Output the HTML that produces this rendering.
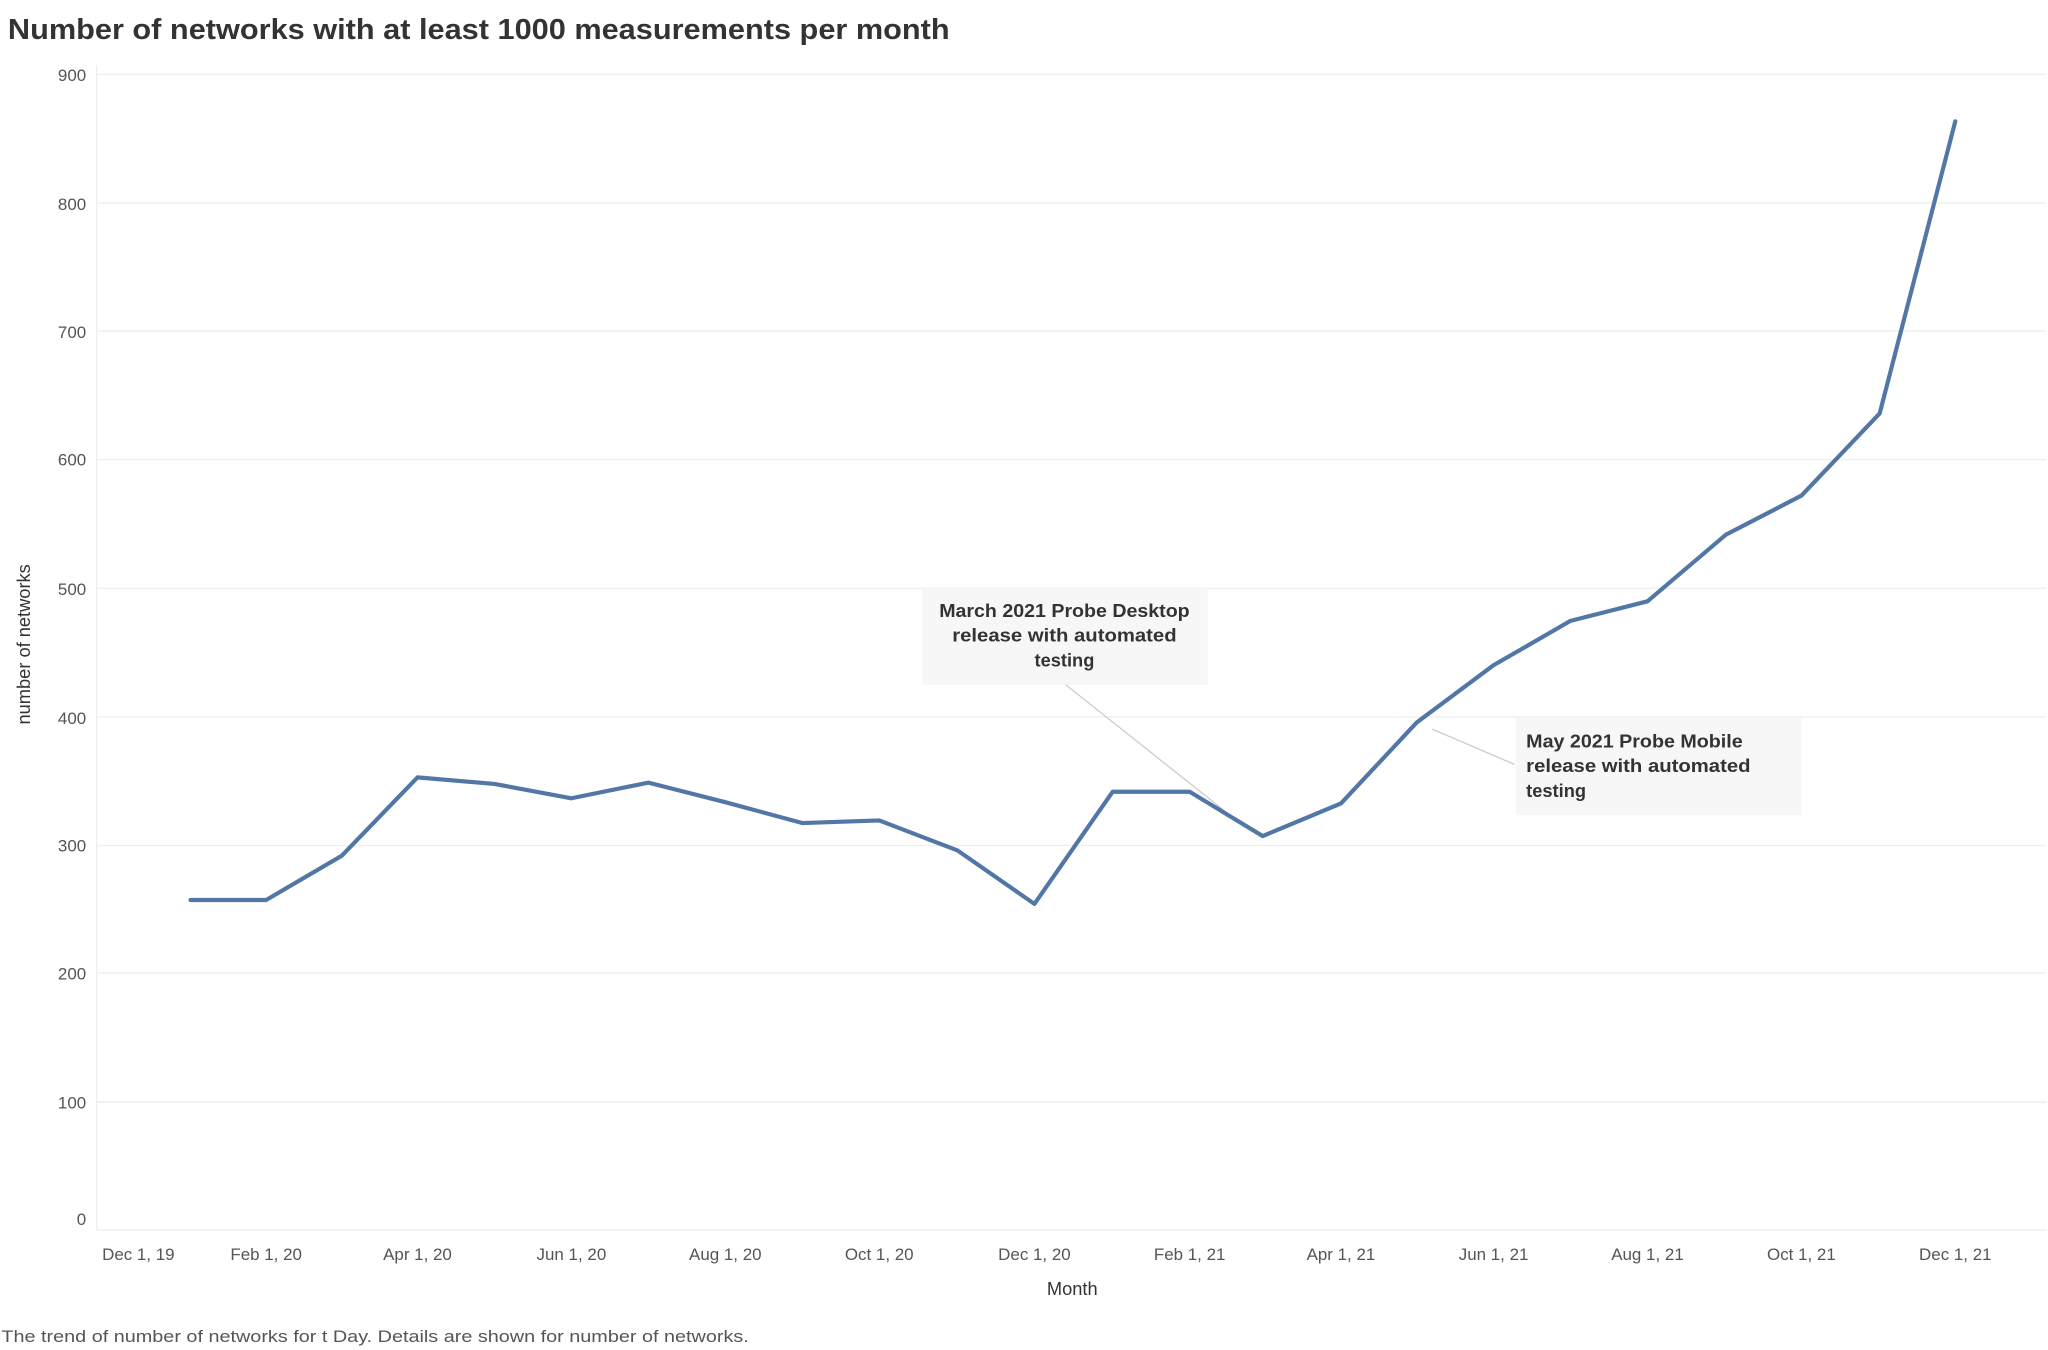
<!DOCTYPE html>
<html><head><meta charset="utf-8"><style>
html,body{margin:0;padding:0;background:#fff;}
svg{display:block;}
text{font-family:"Liberation Sans",sans-serif;}
</style></head><body>
<svg width="2048" height="1350" viewBox="0 0 1568 1035" xmlns="http://www.w3.org/2000/svg">
<rect width="1568" height="1035" fill="#fff"/>
<text x="5" y="30" font-size="22" font-weight="bold" fill="#333" textLength="722" lengthAdjust="spacingAndGlyphs">Number of networks with at least 1000 measurements per month</text>
<g stroke="#eeeeee" stroke-width="1">
<line x1="73" y1="57" x2="1568" y2="57"/>
<line x1="73" y1="155.6" x2="1568" y2="155.6"/>
<line x1="73" y1="253.8" x2="1568" y2="253.8"/>
<line x1="73" y1="352.4" x2="1568" y2="352.4"/>
<line x1="73" y1="451" x2="1568" y2="451"/>
<line x1="73" y1="549.6" x2="1568" y2="549.6"/>
<line x1="73" y1="648.2" x2="1568" y2="648.2"/>
<line x1="73" y1="746" x2="1568" y2="746"/>
<line x1="73" y1="845" x2="1568" y2="845"/>
<line x1="73" y1="943" x2="1568" y2="943"/>
<line x1="73" y1="50" x2="73" y2="943"/>
</g>
<g font-size="13" fill="#555" text-anchor="end">
<text x="65" y="62">900</text><text x="65" y="161">800</text><text x="65" y="259">700</text>
<text x="65" y="357">600</text><text x="65" y="456">500</text><text x="65" y="555">400</text>
<text x="65" y="653">300</text><text x="65" y="751">200</text><text x="65" y="850">100</text>
<text x="65" y="939">0</text>
</g>
<g font-size="13" fill="#555" text-anchor="middle">
<text x="105" y="966">Dec 1, 19</text><text x="203" y="966">Feb 1, 20</text><text x="319" y="966">Apr 1, 20</text>
<text x="437" y="966">Jun 1, 20</text><text x="555" y="966">Aug 1, 20</text><text x="673" y="966">Oct 1, 20</text>
<text x="792" y="966">Dec 1, 20</text><text x="911" y="966">Feb 1, 21</text><text x="1027" y="966">Apr 1, 21</text>
<text x="1144" y="966">Jun 1, 21</text><text x="1262" y="966">Aug 1, 21</text><text x="1380" y="966">Oct 1, 21</text>
<text x="1498" y="966">Dec 1, 21</text>
</g>
<text x="821" y="993" font-size="14" fill="#333" text-anchor="middle">Month</text>
<text transform="translate(22,494) rotate(-90)" font-size="14" fill="#333" text-anchor="middle">number of networks</text>
<text x="0" y="1029" font-size="13" fill="#555" textLength="573" lengthAdjust="spacingAndGlyphs">The trend of number of networks for t Day.  Details are shown for number of networks.</text>
<rect x="706" y="451" width="219" height="74" fill="#f7f7f7"/>
<rect x="1161" y="550" width="219" height="75" fill="#f7f7f7"/>
<line x1="816" y1="525" x2="952" y2="633" stroke="#ccc" stroke-width="1"/>
<line x1="1097" y1="559" x2="1160" y2="586" stroke="#ccc" stroke-width="1"/>
<g font-size="14" font-weight="bold" fill="#333" text-anchor="middle">
<text x="815" y="473" textLength="192" lengthAdjust="spacingAndGlyphs">March 2021 Probe Desktop</text>
<text x="815" y="492" textLength="172" lengthAdjust="spacingAndGlyphs">release with automated</text>
<text x="815" y="511">testing</text>
</g>
<g font-size="14" font-weight="bold" fill="#333">
<text x="1169" y="573" textLength="166" lengthAdjust="spacingAndGlyphs">May 2021 Probe Mobile</text>
<text x="1169" y="592" textLength="172" lengthAdjust="spacingAndGlyphs">release with automated</text>
<text x="1169" y="611">testing</text>
</g>
<polyline fill="none" stroke="#5277a6" stroke-width="3.2" stroke-linejoin="round" stroke-linecap="round"
points="145,690 203,690 261,656 319,596 378,601 437,612 496,600 555,615 614,631 673,629 733,652 792,693 852,607 911,607 967,641 1027,616 1085,554 1144,510 1203,476 1262,461 1322,410 1380,380 1440,317 1498,93"/>
</svg>
</body></html>
